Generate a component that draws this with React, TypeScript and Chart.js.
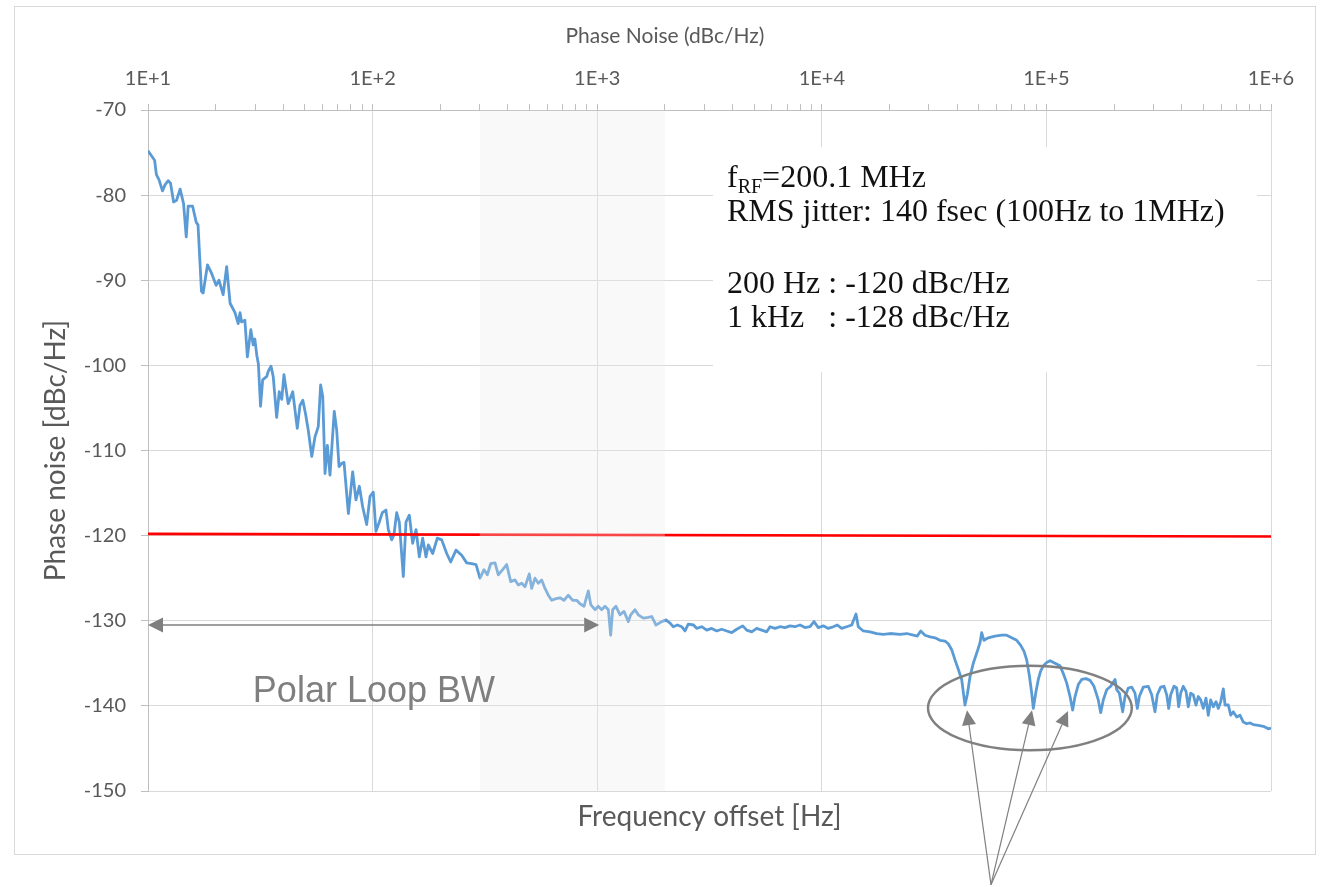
import { useEffect, useRef } from 'react';
import { Chart, registerables } from 'chart.js';

Chart.register(...registerables);

// ---- data ----
const freqHz = [
  10.0, 10.7, 10.9, 11.2, 11.6, 11.9, 12.3, 12.6, 13.0, 13.4, 13.9, 14.4, 14.8, 15.1, 15.8, 16.4, 16.7, 17.3, 17.6, 18.4,
  19.2, 20.1, 20.7, 21.6, 22.4, 23.2, 24.4, 25.2, 25.7, 26.1, 27.0, 27.7, 28.7, 29.4, 29.9, 30.5, 31.0, 31.7, 32.4, 33.8,
  34.3, 35.3, 36.1, 37.4, 38.4, 39.4, 40.3, 42.1, 44.1, 46.2, 47.5, 48.9, 50.2, 51.7, 53.6, 55.4, 57.3, 58.7, 60.0, 61.4,
  62.9, 64.6, 67.5, 69.2, 70.9, 72.9, 74.6, 78.0, 81.5, 84.3, 87.3, 90.3, 94.1, 97.4, 100.7, 103.5, 107.1, 110.5, 114.7, 117.5,
  121.6, 124.5, 128.0, 131.5, 137.0, 140.8, 145.7, 150.8, 156.1, 161.4, 167.1, 172.9, 177.0, 185.2, 194.1, 203.1, 213.8, 222.7, 235.1, 249.3,
  262.4, 276.2, 288.7, 300.7, 313.3, 324.1, 335.6, 350.8, 362.8, 379.5, 395.4, 412.0, 430.6, 445.4, 461.1, 477.1, 498.5, 510.9, 528.5, 546.7,
  566.1, 585.6, 605.8, 627.2, 655.6, 683.0, 711.6, 743.6, 778.0, 810.4, 838.3, 873.4, 912.9, 935.7, 977.7, 1011, 1047, 1083, 1121, 1148,
  1172, 1212, 1264, 1316, 1376, 1410, 1473, 1524, 1605, 1689, 1749, 1827, 1938, 2025, 2116, 2182, 2278, 2378, 2460, 2544,
  2685, 2773, 2919, 3073, 3234, 3405, 3584, 3773, 3971, 4180, 4445, 4631, 4875, 5131, 5401, 5684, 5880, 6189, 6515, 6858,
  7219, 7597, 7998, 8418, 8861, 9232, 9647, 10156, 10690, 11250, 11720, 12260, 12910, 13590, 14200, 14540, 15300, 16390, 17560, 18780,
  20130, 22290, 23880, 25550, 26620, 27560, 28810, 30330, 31920, 33600, 35370, 36580, 37870, 39180, 40520, 41960, 43400, 44430, 45680, 47250,
  49230, 50610, 51500, 52730, 55110, 59040, 63240, 66540, 70060, 73750, 76850, 79490, 81720, 83930, 86020, 87440, 89620, 92040, 94340, 96870,
  100300, 103800, 109200, 115000, 118900, 123100, 127400, 130900, 134100, 138700, 143600, 150100, 156400, 162900, 170200, 174500, 179200, 185600, 193300, 202100,
  205600, 211200, 218600, 223900, 231600, 239900, 248000, 254000, 259200, 270000, 284200, 294300, 304400, 311700, 322700, 333900, 343300, 350400, 357600, 369900,
  380300, 388200, 396300, 406900, 418400, 428400, 439000, 450900, 463500, 474500, 486400, 499500, 513600, 525800, 538900, 553500, 569100, 582700, 597200, 613400,
  624200, 645700, 661800, 679500, 703600, 727800, 752900, 779500, 806300, 834000, 877800, 924100, 972800, 1000000,
];

const noiseDbc = [
  -74.8, -75.9, -77.6, -78.2, -79.5, -78.8, -78.3, -78.6, -80.8, -80.6, -79.3, -81.0, -84.9, -81.3, -81.3, -83.2, -83.5, -91.3, -91.5, -88.2,
  -89.2, -90.6, -90.0, -91.7, -88.4, -92.7, -93.8, -95.1, -93.8, -94.9, -94.7, -99.0, -95.8, -97.6, -96.9, -98.8, -99.8, -104.8, -101.7, -101.3,
  -100.7, -100.1, -101.3, -106.1, -103.1, -104.0, -101.1, -104.5, -103.1, -107.4, -104.7, -104.1, -105.6, -107.6, -110.7, -108.4, -107.2, -102.3, -103.7, -112.7,
  -109.4, -112.9, -105.4, -107.6, -111.9, -111.5, -111.4, -117.4, -112.5, -115.8, -114.2, -116.6, -118.7, -115.4, -114.9, -119.5, -118.4, -117.3, -117.0, -119.3,
  -120.5, -119.9, -117.3, -118.4, -124.8, -118.4, -117.6, -120.9, -119.3, -122.5, -120.3, -122.5, -121.1, -122.1, -120.3, -120.5, -122.1, -123.1, -121.7, -122.3,
  -123.2, -123.3, -123.4, -125.0, -124.0, -124.6, -123.3, -123.2, -124.6, -124.0, -123.4, -125.4, -125.2, -125.8, -125.6, -126.0, -124.5, -126.2, -125.0, -125.6,
  -125.2, -126.2, -127.0, -127.6, -127.4, -127.3, -127.6, -127.0, -127.6, -127.6, -128.0, -128.3, -126.5, -128.1, -128.7, -128.3, -128.7, -128.3, -128.7, -131.7,
  -128.7, -128.3, -129.3, -128.9, -130.1, -129.3, -128.7, -129.3, -129.7, -129.6, -129.5, -130.5, -130.1, -129.9, -130.3, -130.7, -130.5, -130.7, -131.2, -130.4,
  -130.5, -130.9, -130.7, -131.1, -130.9, -131.2, -131.0, -131.2, -131.4, -131.0, -130.6, -131.1, -131.3, -130.9, -131.1, -131.3, -130.7, -130.9, -130.7, -130.8,
  -130.6, -130.7, -130.5, -130.8, -130.7, -130.1, -130.8, -130.6, -130.9, -130.7, -130.5, -130.9, -130.7, -130.5, -129.2, -130.7, -131.2, -131.3, -131.5, -131.6,
  -131.5, -131.6, -131.5, -131.7, -131.8, -131.2, -131.7, -131.9, -132.0, -132.3, -132.4, -132.7, -133.4, -134.6, -135.7, -136.9, -139.9, -138.7, -136.6, -135.0,
  -133.6, -132.6, -131.4, -132.3, -132.0, -131.8, -131.7, -131.7, -132.0, -132.3, -132.9, -133.6, -134.6, -136.4, -138.5, -140.3, -138.5, -136.9, -135.9, -135.3,
  -134.9, -134.7, -135.0, -135.3, -136.2, -137.3, -138.9, -140.5, -138.9, -137.5, -136.9, -136.8, -137.0, -137.7, -139.3, -140.8, -139.3, -138.1, -137.7, -136.9,
  -138.1, -138.5, -140.7, -138.9, -137.9, -137.8, -138.5, -140.3, -138.9, -137.8, -137.7, -138.7, -140.7, -138.7, -137.8, -137.7, -138.7, -140.3, -138.7, -137.7,
  -137.9, -140.1, -138.5, -137.7, -138.3, -140.1, -138.5, -138.7, -139.9, -138.9, -139.3, -140.3, -139.1, -141.1, -139.3, -140.1, -139.5, -140.3, -139.5, -138.0,
  -139.9, -139.9, -141.1, -140.7, -141.3, -141.1, -141.9, -142.1, -142.0, -142.2, -142.3, -142.4, -142.7, -142.6,
];

const limitFreqHz = [10, 1000000];
const limitDbc = [-119.8, -120.1];

const decadeTicks = [10, 100, 1000, 10000, 100000, 1000000];
const decadeLabels = ['1E+1', '1E+2', '1E+3', '1E+4', '1E+5', '1E+6'];
const minorMultipliers = [2, 3, 4, 5, 6, 7, 8, 9];

const yMin = -150;
const yMax = -70;
const yStep = 10;

// annotation anchors (data coordinates)
const shadeRangeHz = [300, 2000];
const loopBwHz = [10, 1000];
const loopBwLevel = -130.5;
const loopBwLabel = 'Polar Loop BW';
const loopBwLabelAt = { x: 29.3, y: -139.5 };
const ellipseBox = { x0: 29700, x1: 240000, y0: -135.3, y1: -145.2 };
const arrowOrigin = { x: 56660, y: -161.0 };
const arrowTips = [
  { x: 44300, y: -140.5 },
  { x: 86300, y: -140.5 },
  { x: 124800, y: -140.6 },
];
const infoBox = { x0: 3278, x1: 866000, y0: -74.35, y1: -100.8 };
const infoLine2 = 'RMS jitter: 140 fsec (100Hz to 1MHz)';
const infoLine3 = '200 Hz : -120 dBc/Hz';
const infoLine4 = '1 kHz   : -128 dBc/Hz';
const topTitle = 'Phase Noise (dBc/Hz)';
const xTitle = 'Frequency offset [Hz]';
const yTitle = 'Phase noise [dBc/Hz]';

const SANS = 'Lato, "Open Sans", sans-serif';
const SERIF = '"Liberation Serif", "DejaVu Serif", serif';
const TEXT_GRAY = '#595959';
const GRID = '#d9d9d9';
const AXIS = '#bfbfbf';
const ANNOT = '#7f7f7f';

function buildXTicks() {
  const ticks: { value: number }[] = [];
  decadeTicks.forEach((d, i) => {
    ticks.push({ value: d });
    if (i < decadeTicks.length - 1) minorMultipliers.forEach((m) => ticks.push({ value: d * m }));
  });
  return ticks;
}

function arrowHead(ctx: CanvasRenderingContext2D, fx: number, fy: number, tx: number, ty: number, len: number, half: number) {
  const a = Math.atan2(ty - fy, tx - fx);
  const bx = tx - len * Math.cos(a);
  const by = ty - len * Math.sin(a);
  const px = -Math.sin(a) * half;
  const py = Math.cos(a) * half;
  ctx.beginPath();
  ctx.moveTo(tx, ty);
  ctx.lineTo(bx + px, by + py);
  ctx.lineTo(bx - px, by - py);
  ctx.closePath();
  ctx.fill();
  return { bx, by };
}

const annotPlugin = {
  id: 'annot',
  beforeDraw(chart: any) {
    const { ctx, width, height } = chart;
    ctx.save();
    ctx.fillStyle = '#ffffff';
    ctx.fillRect(0, 0, width, height);
    ctx.strokeStyle = GRID;
    ctx.lineWidth = 1;
    ctx.strokeRect(14.5, 6.5, 1301, 848);
    ctx.restore();
  },
  beforeDatasetsDraw(chart: any) {
    const { ctx } = chart;
    const xs = chart.scales.x;
    const ys = chart.scales.y;
    const l = xs.getPixelForValue(infoBox.x0);
    const r = xs.getPixelForValue(infoBox.x1);
    const t = ys.getPixelForValue(infoBox.y0);
    const b = ys.getPixelForValue(infoBox.y1);
    ctx.save();
    ctx.fillStyle = '#ffffff';
    ctx.fillRect(l, t, r - l, b - t);
    ctx.restore();
  },
  afterDatasetsDraw(chart: any) {
    const { ctx, chartArea } = chart;
    const xs = chart.scales.x;
    const ys = chart.scales.y;
    ctx.save();

    // shaded band
    const s0 = xs.getPixelForValue(shadeRangeHz[0]);
    const s1 = xs.getPixelForValue(shadeRangeHz[1]);
    ctx.fillStyle = 'rgba(236,236,236,0.3)';
    ctx.fillRect(s0, chartArea.top + 0.5, s1 - s0, chartArea.bottom - chartArea.top - 0.5);

    // loop BW double arrow
    ctx.fillStyle = ANNOT;
    ctx.strokeStyle = ANNOT;
    const ay = ys.getPixelForValue(loopBwLevel);
    const ax0 = xs.getPixelForValue(loopBwHz[0]);
    const ax1 = xs.getPixelForValue(loopBwHz[1]) + 2;
    const h1 = arrowHead(ctx, ax1, ay, ax0, ay, 15, 7.5);
    const h2 = arrowHead(ctx, ax0, ay, ax1, ay, 15, 7.5);
    ctx.lineWidth = 1.5;
    ctx.beginPath();
    ctx.moveTo(h1.bx, ay);
    ctx.lineTo(h2.bx, ay);
    ctx.stroke();

    ctx.font = `36px "Liberation Sans", Arial, sans-serif`;
    ctx.textAlign = 'left';
    ctx.textBaseline = 'alphabetic';
    ctx.fillText(loopBwLabel, xs.getPixelForValue(loopBwLabelAt.x), ys.getPixelForValue(loopBwLabelAt.y));

    // ellipse
    const e0 = xs.getPixelForValue(ellipseBox.x0);
    const e1 = xs.getPixelForValue(ellipseBox.x1);
    const et = ys.getPixelForValue(ellipseBox.y0);
    const eb = ys.getPixelForValue(ellipseBox.y1);
    ctx.strokeStyle = '#808080';
    ctx.lineWidth = 2.5;
    ctx.beginPath();
    ctx.ellipse((e0 + e1) / 2, (et + eb) / 2, (e1 - e0) / 2, (eb - et) / 2, 0, 0, Math.PI * 2);
    ctx.stroke();

    // arrows to notches
    const ox = xs.getPixelForValue(arrowOrigin.x);
    const oy = ys.getPixelForValue(arrowOrigin.y);
    ctx.fillStyle = '#808080';
    ctx.lineWidth = 1.2;
    arrowTips.forEach((tp) => {
      const tx = xs.getPixelForValue(tp.x);
      const ty = ys.getPixelForValue(tp.y);
      const h = arrowHead(ctx, ox, oy, tx, ty, 15, 7);
      ctx.beginPath();
      ctx.moveTo(ox, oy);
      ctx.lineTo(h.bx, h.by);
      ctx.stroke();
    });

    // info text
    const il = xs.getPixelForValue(infoBox.x0) + 14;
    const it = ys.getPixelForValue(infoBox.y0);
    ctx.fillStyle = '#111111';
    ctx.textAlign = 'left';
    ctx.font = `32px ${SERIF}`;
    let cx = il;
    ctx.fillText('f', cx, it + 40);
    cx += ctx.measureText('f').width;
    ctx.font = `20px ${SERIF}`;
    ctx.fillText('RF', cx, it + 46);
    cx += ctx.measureText('RF').width;
    ctx.font = `32px ${SERIF}`;
    ctx.fillText('=200.1 MHz', cx, it + 40);
    ctx.fillText(infoLine2, il, it + 74);
    ctx.fillText(infoLine3, il, it + 146);
    ctx.fillText(infoLine4, il, it + 180);

    ctx.restore();
  },
  afterDraw(chart: any) {
    const { ctx, chartArea } = chart;
    ctx.save();
    ctx.fillStyle = TEXT_GRAY;
    ctx.textBaseline = 'alphabetic';
    ctx.textAlign = 'center';
    ctx.font = `21px ${SANS}`;
    ctx.fillText(topTitle, 665, 43);
    ctx.font = `28px ${SANS}`;
    ctx.fillText(xTitle, (chartArea.left + chartArea.right) / 2, chartArea.bottom + 35);
    ctx.restore();
  },
};

export default function App() {
  const ref = useRef<HTMLCanvasElement>(null);

  useEffect(() => {
    if (!ref.current) return;
    const noisePoints = freqHz.map((f, i) => ({ x: f, y: noiseDbc[i] }));
    const limitPoints = limitFreqHz.map((f, i) => ({ x: f, y: limitDbc[i] }));

    const chart = new Chart(ref.current, {
      type: 'line',
      data: {
        datasets: [
          {
            label: 'limit',
            data: limitPoints,
            borderColor: '#ff0000',
            borderWidth: 2.6,
            pointRadius: 0,
            tension: 0,
          },
          {
            label: 'phase noise',
            data: noisePoints,
            borderColor: '#5b9bd5',
            borderWidth: 2.8,
            pointRadius: 0,
            tension: 0,
            borderJoinStyle: 'round',
          },
        ],
      },
      options: {
        responsive: false,
        animation: false,
        devicePixelRatio: 1,
        layout: { padding: { left: 0, top: 0, right: 53, bottom: 96 } },
        plugins: {
          legend: { display: false },
          tooltip: { enabled: false },
          title: { display: false },
        },
        scales: {
          x: {
            type: 'logarithmic',
            position: 'top',
            min: 10,
            max: 1000000,
            afterBuildTicks: (scale: any) => {
              scale.ticks = buildXTicks();
            },
            afterFit: (scale: any) => {
              scale.height = 110;
            },
            ticks: {
              autoSkip: false,
              maxRotation: 0,
              minRotation: 0,
              padding: 13,
              color: TEXT_GRAY,
              font: { family: SANS, size: 20 },
              callback: (value: any) => {
                const i = decadeTicks.indexOf(Number(value));
                return i >= 0 ? decadeLabels[i] : '';
              },
            },
            grid: {
              color: (c: any) => (c.tick && decadeTicks.indexOf(c.tick.value) >= 0 ? GRID : 'rgba(0,0,0,0)'),
              tickColor: AXIS,
              tickLength: 6,
              lineWidth: 1,
            },
            border: { display: true, color: AXIS, width: 1 },
          },
          y: {
            type: 'linear',
            position: 'left',
            min: yMin,
            max: yMax,
            afterFit: (scale: any) => {
              scale.width = 148;
            },
            ticks: {
              stepSize: yStep,
              padding: 15,
              color: TEXT_GRAY,
              font: { family: SANS, size: 20 },
            },
            grid: {
              color: GRID,
              tickColor: AXIS,
              tickLength: 7,
              lineWidth: 1,
            },
            border: { display: true, color: AXIS, width: 1 },
            title: {
              display: true,
              text: yTitle,
              color: TEXT_GRAY,
              font: { family: SANS, size: 28 },
              padding: { top: 39, bottom: 0 },
            },
          },
        },
      } as any,
      plugins: [annotPlugin],
    });
    return () => chart.destroy();
  }, []);

  return (
    <canvas
      ref={ref}
      width={1324}
      height={887}
      style={{ position: 'fixed', left: 0, top: 0, width: 1324, height: 887 }}
    />
  );
}
